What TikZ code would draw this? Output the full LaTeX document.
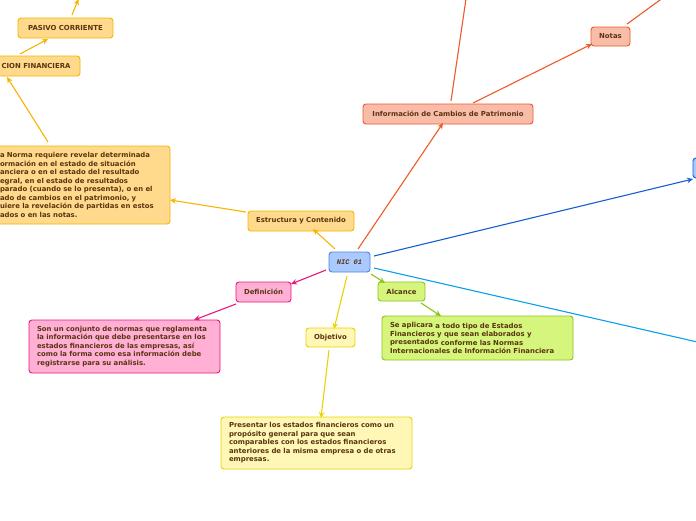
\documentclass[tikz,border=0pt]{standalone}
\usepackage{fontspec}
\setmainfont{DejaVu Sans}
\newfontfamily\nicfont{Liberation Mono}
\usetikzlibrary{arrows.meta,calc}
\definecolor{txt}{HTML}{5A3410}
\definecolor{orfill}{HTML}{FFDA8C}
\definecolor{orline}{HTML}{F7B500}
\definecolor{pkfill}{HTML}{FFB0D4}
\definecolor{pkline}{HTML}{E8197A}
\definecolor{yefill}{HTML}{FFF7B5}
\definecolor{yeline}{HTML}{EBD300}
\definecolor{grfill}{HTML}{D5F57C}
\definecolor{grline}{HTML}{8DC21F}
\definecolor{safill}{HTML}{F9BCA8}
\definecolor{saline}{HTML}{EE5A2A}
\definecolor{blfill}{HTML}{A9C9FF}
\definecolor{blline}{HTML}{4D84E0}
\definecolor{dkblue}{HTML}{1560D0}
\definecolor{cyanl}{HTML}{0AA0E8}
\tikzset{
  box/.style={draw, rounded corners=3pt, line width=0.9pt, inner sep=0pt,
    text=txt, font=\fontsize{6.9}{8.5}\selectfont\bfseries},
  tbox/.style={box, inner xsep=8pt, align=left},
  orbox/.style={box, fill=orfill, draw=orline},
  pkbox/.style={box, fill=pkfill, draw=pkline},
  yebox/.style={box, fill=yefill, draw=yeline},
  grbox/.style={box, fill=grfill, draw=grline},
  sabox/.style={box, fill=safill, draw=saline},
  blbox/.style={box, fill=blfill, draw=blline},
  con/.style={line width=1.1pt, -{Stealth[length=6pt,width=5.5pt]}},
  plain/.style={line width=1.1pt},
}
\begin{document}
\begin{tikzpicture}[x=1pt,y=-1pt]
\useasboundingbox (0,0) rectangle (696,520);
\clip (0,0) rectangle (696,520);
\fill[white] (0,0) rectangle (696,520);

% nodes
\node[orbox, minimum width=95pt, minimum height=20pt] (pasivo) at (65.5,28) {PASIVO CORRIENTE};
\node[orbox, minimum width=88pt, minimum height=20pt] (cion) at (36,66) {CION FINANCIERA};
\node[orbox, tbox, text width=162pt, minimum height=78pt] (big) at (81,185) {a Norma requiere revelar determinada\\ormación en el estado de situación\\anciera o en el estado del resultado\\egral, en el estado de resultados\\parado (cuando se lo presenta), o en el\\ado de cambios en el patrimonio, y\\uiere la revelación de partidas en estos\\ados o en las notas.};
\node[orbox, minimum width=106pt, minimum height=20pt] (estr) at (301,221) {Estructura y Contenido};
\node[blbox, minimum width=41pt, minimum height=20pt, font=\fontsize{7}{8}\selectfont\nicfont\bfseries\itshape] (nic) at (349.5,262) {NIC 01};
\node[pkbox, minimum width=55pt, minimum height=20pt] (defi) at (263.5,292) {Definición};
\node[pkbox, tbox, text width=175pt, minimum height=53pt] (defitext) at (124.5,346.5) {Son un conjunto de normas que reglamenta\\la información que debe presentarse en los\\estados financieros de las empresas, así\\como la forma como esa información debe\\registrarse para su análisis.};
\node[yebox, minimum width=49pt, minimum height=19pt] (obj) at (330.5,337.5) {Objetivo};
\node[yebox, tbox, text width=175pt, minimum height=52pt] (objtext) at (316.5,443) {Presentar los estados financieros como un\\propósito general para que sean\\comparables con los estados financieros\\anteriores de la misma empresa o de otras\\empresas.};
\node[grbox, minimum width=47pt, minimum height=19pt] (alc) at (401.5,291.5) {Alcance};
\node[grbox, tbox, text width=175pt, minimum height=44pt] (alctext) at (477.5,338) {\raisebox{1.2pt}{Se aplicara} a todo tipo de Estados\\Financieros y que sean elaborados y\\\raisebox{1.2pt}{presentados} conforme las Normas\\Internacionales de Información Financiera};
\node[sabox, minimum width=170pt, minimum height=20pt] (info) at (448,114) {Información de Cambios de Patrimonio};
\node[sabox, minimum width=39pt, minimum height=19pt] (notas) at (610.5,36.5) {Notas};
\node[blbox, draw=dkblue, minimum width=90pt, minimum height=20pt] (blue) at (738,168) {};

% off-image ends
\coordinate (pasup) at (78.5,-1);
\coordinate (infoup) at (467,-8);
\coordinate (notasup) at (671,-8);
\coordinate (cyanend) at (800,365.5);

% connectors
\draw[con, orline] ($(cion)+(-16,-12)$) -- ($(pasivo)+(-17.5,11)$);
\draw[con, orline] ($(big)+(-33,-43)$) -- ($(cion)+(-29,11)$);
\draw[con, orline] ($(pasivo)+(6.5,-13)$) -- (pasup);
\draw[con, orline] ($(estr)+(-55,-9)$) -- ($(big)+(89,15)$);
\draw[con, orline] ($(nic)+(-14.5,-13)$) -- ($(estr)+(12,8)$);
\draw[con, pkline] ($(nic)+(-23.5,8)$) -- ($(defi)+(27.5,-8)$);
\draw[con, pkline] ($(defi)+(-27.5,12)$) -- ($(defitext)+(69.5,-26.5)$);
\draw[con, yeline] ($(nic)+(-2.5,14)$) -- ($(obj)+(3.5,-8.5)$);
\draw[con, yeline] ($(obj)+(-1.5,12.5)$) -- ($(objtext)+(4.5,-25)$);
\draw[con, grline] ($(nic)+(21.5,12)$) -- ($(alc)+(-16.5,-8.5)$);
\draw[con, grline] ($(alc)+(19.5,11.5)$) -- ($(alctext)+(-36.5,-22)$);
\draw[con, saline] ($(nic)+(8.5,-13)$) -- ($(info)+(-5,9)$);
\draw[con, saline] ($(info)+(25,-11)$) -- ($(notas)+(-18.5,7.5)$);
\draw[plain, saline] ($(info)+(3,-13)$) -- (infoup);
\draw[plain, saline] ($(notas)+(16.5,-12.5)$) -- (notasup);
\draw[con, dkblue] ($(nic)+(24.5,-6)$) -- ($(blue)+(-45,11)$);
\draw[plain, cyanl] ($(nic)+(24.5,6)$) -- (cyanend);
\end{tikzpicture}
\end{document}
